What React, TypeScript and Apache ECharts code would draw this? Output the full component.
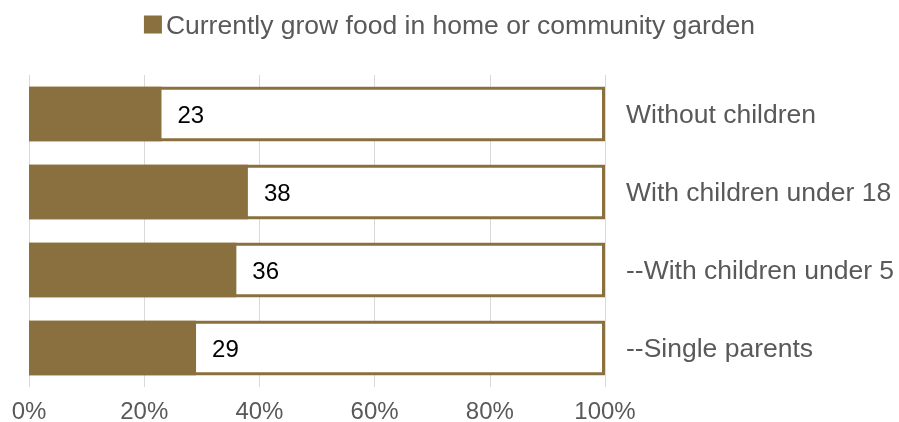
import React, { useEffect, useRef } from "react";
import * as echarts from "echarts";

const categories = [
  "Without children",
  "With children under 18",
  "--With children under 5",
  "--Single parents",
];
const growFood = [23, 38, 36, 29];
const fullScale = [100, 100, 100, 100];
const xTicks = [0, 20, 40, 60, 80, 100];
const seriesName = "Currently grow food in home or community garden";

const BROWN = "#8B703F";
const GREY_TEXT = "#595959";
const FONT = "'Liberation Sans', Arial, sans-serif";

export default function App() {
  const ref = useRef<HTMLDivElement>(null);

  useEffect(() => {
    if (!ref.current) return;
    const chart = echarts.init(ref.current, undefined, { renderer: "svg" });
    chart.setOption({
      animation: false,
      textStyle: { fontFamily: FONT },
      legend: {
        data: [seriesName],
        top: 6,
        left: "center",
        icon: "rect",
        itemWidth: 16,
        itemHeight: 16,
        textStyle: { color: GREY_TEXT, fontSize: 26.5, fontFamily: FONT },
      },
      grid: { left: 29, right: 294, top: 75, bottom: 32, containLabel: false },
      xAxis: {
        type: "value",
        min: xTicks[0],
        max: xTicks[xTicks.length - 1],
        interval: 20,
        axisLine: { show: false },
        axisTick: { show: false },
        splitLine: { show: true, lineStyle: { color: "#d9d9d9", width: 1 } },
        axisLabel: {
          color: GREY_TEXT,
          fontSize: 24,
          margin: 11,
          fontFamily: FONT,
          formatter: (v: number) => `${v}%`,
        },
      },
      yAxis: {
        type: "category",
        data: categories,
        inverse: true,
        position: "right",
        axisLine: { show: false },
        axisTick: { show: false },
        splitLine: { show: false },
        axisLabel: {
          color: GREY_TEXT,
          fontSize: 26.5,
          margin: 21,
          padding: [0, 0, 6, 0],
          fontFamily: FONT,
        },
      },
      series: [
        {
          name: "background",
          type: "bar",
          data: fullScale,
          barWidth: "70%",
          silent: true,
          itemStyle: { color: "#ffffff", borderColor: BROWN, borderWidth: 3 },
          z: 1,
        },
        {
          name: seriesName,
          type: "bar",
          data: growFood,
          barWidth: "70%",
          barGap: "-100%",
          itemStyle: { color: BROWN, borderColor: BROWN, borderWidth: 3 },
          label: {
            show: true,
            position: "right",
            distance: 16,
            color: "#000000",
            fontSize: 24,
            fontFamily: FONT,
          },
          z: 2,
        },
      ],
    });
    return () => chart.dispose();
  }, []);

  return (
    <div
      ref={ref}
      style={{ position: "fixed", left: 0, top: 0, width: 899, height: 422 }}
    />
  );
}
